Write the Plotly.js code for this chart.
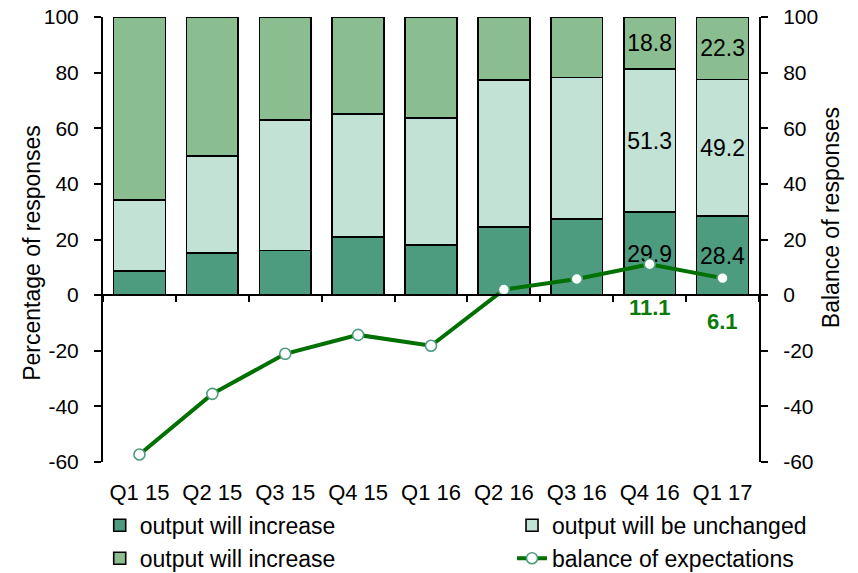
<!DOCTYPE html>
<html>
<head>
<meta charset="utf-8">
<script src="https://cdn.plot.ly/plotly-3.0.1.min.js"></script>
<style>html,body{margin:0;padding:0;background:#fff;}#chart{width:858px;height:573px;}</style>
</head>
<body>
<div id="chart"></div>
<script>
const categories = ['Q1 15','Q2 15','Q3 15','Q4 15','Q1 16','Q2 16','Q3 16','Q4 16','Q1 17'];
const increase  = [8.7, 15.2, 16.0, 21.0, 18.1, 24.5, 27.4, 29.9, 28.4];
const unchanged = [25.4, 34.9, 46.9, 44.2, 45.6, 52.9, 50.9, 51.3, 49.2];
const decrease  = [65.9, 49.9, 37.1, 34.8, 36.3, 22.6, 21.7, 18.8, 22.3];
const balance   = [-57.3, -35.5, -21.1, -14.3, -18.2, 2.0, 5.8, 11.1, 6.1];
const labelledQuarters = ['Q4 16','Q1 17'];
const seriesNames = ['output will increase','output will be unchanged','output will increase','balance of expectations'];
const yTicks = [-60,-40,-20,0,20,40,60,80,100];
const yTickText = yTicks.map(v => String(v));

const FONT = 'Liberation Sans, Arial, sans-serif';
const lab = (arr) => arr.map((v,i) => labelledQuarters.includes(categories[i]) ? v.toFixed(1) : '');

function barTrace(vals, name, color, legendId) {
  return {
    type: 'bar', x: categories, y: vals, name: name, legend: legendId,
    marker: {color: color, line: {color: '#000', width: 1.6}},
    text: lab(vals), textposition: 'inside', insidetextanchor: 'middle',
    textangle: 0, constraintext: 'none',
    textfont: {family: FONT, size: 23, color: '#000'},
    xaxis: 'x', yaxis: 'y', hoverinfo: 'skip'
  };
}

const traces = [
  barTrace(increase, seriesNames[0], '#4E9C80', 'legend'),
  barTrace(unchanged, seriesNames[1], '#C1E2D5', 'legend2'),
  barTrace(decrease, seriesNames[2], '#8ABD8F', 'legend'),
  {
    type: 'scatter', mode: 'lines+markers', x: categories, y: balance, name: seriesNames[3],
    legend: 'legend2',
    line: {color: '#007000', width: 4},
    marker: {size: 11, color: '#fff', line: {color: '#4E9C80', width: 1.6}},
    xaxis: 'x2', yaxis: 'y2', hoverinfo: 'skip'
  }
];

const balAnn = labelledQuarters.map(q => {
  const i = categories.indexOf(q);
  return {
    x: q, y: balance[i], xref: 'x', yref: 'y', text: '<b>' + balance[i].toFixed(1) + '</b>',
    showarrow: false, yanchor: 'top', yshift: -29,
    font: {family: FONT, size: 22, color: '#0A7A0A'}
  };
});

const legendCommon = {
  orientation: 'v', y: -0.094, yanchor: 'top', xanchor: 'left',
  traceorder: 'normal', bgcolor: 'rgba(0,0,0,0)',
  font: {family: FONT, size: 23, color: '#000'}, itemwidth: 30
};

const layout = {
  width: 858, height: 573,
  margin: {l: 103, r: 99, t: 17, b: 111, autoexpand: false},
  paper_bgcolor: '#fff', plot_bgcolor: 'rgba(0,0,0,0)',
  barmode: 'stack', bargap: 0.29,
  font: {family: FONT, size: 21, color: '#000'},
  showlegend: true,
  legend: Object.assign({}, legendCommon, {x: -0.005}),
  legend2: Object.assign({}, legendCommon, {x: 0.6235}),
  xaxis: {
    type: 'category', categoryorder: 'array', categoryarray: categories,
    range: [-0.5, 8.5], anchor: 'free', position: 0.375,
    showline: true, linecolor: '#000', linewidth: 2,
    ticks: 'outside', tickson: 'boundaries', ticklen: 6, tickwidth: 1.5, tickcolor: '#000',
    showticklabels: false, showgrid: false, zeroline: false, fixedrange: true
  },
  xaxis2: {
    type: 'category', categoryorder: 'array', categoryarray: categories,
    overlaying: 'x', anchor: 'y', side: 'bottom', range: [-0.5, 8.5],
    showline: false, showgrid: false, zeroline: false,
    ticks: 'outside', ticklen: 11, tickcolor: 'rgba(0,0,0,0)',
    tickfont: {family: FONT, size: 22, color: '#000'}, fixedrange: true
  },
  yaxis: {
    range: [-60, 100], tickvals: yTicks, ticktext: yTickText, showgrid: false, zeroline: false,
    showline: true, linecolor: '#000', linewidth: 2,
    ticks: 'outside', ticklen: 7, tickwidth: 1.5, tickcolor: '#000',
    ticklabelstandoff: 11,
    tickfont: {family: FONT, size: 21, color: '#000'}, fixedrange: true
  },
  yaxis2: {
    range: [-60, 100], tickvals: yTicks, ticktext: yTickText, overlaying: 'y', side: 'right', anchor: 'x',
    showgrid: false, zeroline: false,
    showline: true, linecolor: '#000', linewidth: 2,
    ticks: 'outside', ticklen: 7, tickwidth: 1.5, tickcolor: '#000',
    ticklabelstandoff: 11,
    tickfont: {family: FONT, size: 21, color: '#000'}, fixedrange: true
  },
  annotations: [
    {text: 'Percentage of responses', xref: 'paper', yref: 'paper', x: 0, y: 0.47,
     xanchor: 'center', yanchor: 'middle', xshift: -71, textangle: -90, showarrow: false,
     font: {family: FONT, size: 23, color: '#000'}},
    {text: 'Balance of responses', xref: 'paper', yref: 'paper', x: 1, y: 0.548,
     xanchor: 'center', yanchor: 'middle', xshift: 72, textangle: -90, showarrow: false,
     font: {family: FONT, size: 23, color: '#000'}}
  ].concat(balAnn)
};

Plotly.newPlot('chart', traces, layout, {displayModeBar: false, responsive: false});
</script>
</body>
</html>
